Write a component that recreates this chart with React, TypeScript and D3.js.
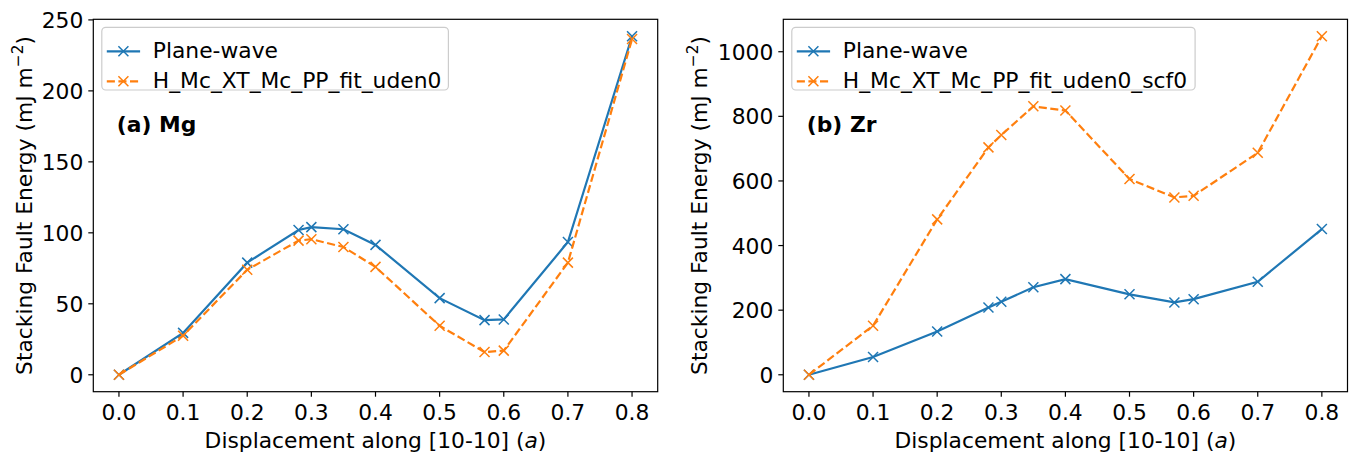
import React from "react";
import * as d3 from "d3";

const displacement = [0, 0.1, 0.2, 0.28, 0.3, 0.35, 0.4, 0.5, 0.57, 0.6, 0.7, 0.8];
const mgPlaneWave = [0, 29.5, 79, 102, 104, 102.5, 91.5, 54, 38.5, 39, 93.5, 238.5];
const mgFit = [0, 27.5, 74, 94.5, 95.5, 90, 76, 34.5, 16, 17, 79, 236.5];
const zrPlaneWave = [0, 55, 134, 208, 226, 271, 296, 249, 224, 234, 288, 451];
const zrFit = [0, 152, 481, 704, 742, 831, 818, 606, 549, 554, 687, 1048];
const xTicks = [0, 0.1, 0.2, 0.3, 0.4, 0.5, 0.6, 0.7, 0.8];
const mgYTicks = [0, 50, 100, 150, 200, 250];
const zrYTicks = [0, 200, 400, 600, 800, 1000];

const BLUE = "#1f77b4";
const ORANGE = "#ff7f0e";
const FONT = "DejaVu Sans, sans-serif";
const FS = 21.8;

type PanelProps = {
  left: number;
  right: number;
  top: number;
  bottom: number;
  pw: number[];
  fit: number[];
  yTicks: number[];
  fitLabel: string;
  tag: string;
  legendWidth: number;
  ylabelX: number;
};

function Marker({ x, y, color }: { x: number; y: number; color: string }) {
  const r = 5;
  return (
    <path
      d={`M${x - r},${y - r}L${x + r},${y + r}M${x - r},${y + r}L${x + r},${y - r}`}
      stroke={color}
      strokeWidth={1.5}
      fill="none"
    />
  );
}

function Panel(p: PanelProps) {
  const x = d3.scaleLinear().domain([-0.04, 0.84]).range([p.left, p.right]);
  const all = [...p.pw, ...p.fit];
  const ymin = d3.min(all)!;
  const ymax = d3.max(all)!;
  const m = (ymax - ymin) * 0.05;
  const y = d3.scaleLinear().domain([ymin - m, ymax + m]).range([p.bottom, p.top]);
  const line = d3
    .line<number>()
    .x((_, i) => x(displacement[i]))
    .y((v) => y(v));
  const tickLen = 5;
  const lx = p.left + 8.5;
  const ly = p.top + 8;
  const cx = (p.left + p.right) / 2;
  const cy = (p.top + p.bottom) / 2;
  return (
    <g fontFamily={FONT}>
      <path d={line(p.pw)!} stroke={BLUE} strokeWidth={2.2} fill="none" />
      {p.pw.map((v, i) => (
        <Marker key={"p" + i} x={x(displacement[i])} y={y(v)} color={BLUE} />
      ))}
      <path
        d={line(p.fit)!}
        stroke={ORANGE}
        strokeWidth={2.2}
        fill="none"
        strokeDasharray="8.1,3.5"
      />
      {p.fit.map((v, i) => (
        <Marker key={"f" + i} x={x(displacement[i])} y={y(v)} color={ORANGE} />
      ))}
      <rect
        x={p.left}
        y={p.top}
        width={p.right - p.left}
        height={p.bottom - p.top}
        fill="none"
        stroke="#000"
        strokeWidth={1.2}
      />
      {xTicks.map((t) => (
        <g key={"xt" + t}>
          <line x1={x(t)} x2={x(t)} y1={p.bottom} y2={p.bottom + tickLen} stroke="#000" strokeWidth={1.2} />
          <text x={x(t)} y={p.bottom + tickLen + 23} textAnchor="middle" fontSize={FS} fill="#000">
            {t.toFixed(1)}
          </text>
        </g>
      ))}
      {p.yTicks.map((t) => (
        <g key={"yt" + t}>
          <line x1={p.left - tickLen} x2={p.left} y1={y(t)} y2={y(t)} stroke="#000" strokeWidth={1.2} />
          <text x={p.left - tickLen - 5} y={y(t) + 8} textAnchor="end" fontSize={FS} fill="#000">
            {t}
          </text>
        </g>
      ))}
      <text x={cx} y={448} textAnchor="middle" fontSize={FS} fill="#000">
        Displacement along [10-10] (<tspan fontStyle="italic">a</tspan>)
      </text>
      <text
        transform={`translate(${p.ylabelX},${cy}) rotate(-90)`}
        textAnchor="middle"
        fontSize={FS}
        fill="#000"
      >
        Stacking Fault Energy (mJ m
        <tspan fontSize={15.3} dy={-9.5}>
          −2
        </tspan>
        <tspan dy={9.5}>)</tspan>
      </text>
      <text x={p.left + 23.5} y={131.5} fontSize={FS} fontWeight="bold" fill="#000">
        {p.tag}
      </text>
      <rect
        x={lx}
        y={ly}
        width={p.legendWidth}
        height={62.7}
        rx={4}
        fill="#fff"
        fillOpacity={0.8}
        stroke="#cccccc"
        strokeWidth={1.2}
      />
      <line x1={lx + 5} x2={lx + 38.3} y1={ly + 24} y2={ly + 24} stroke={BLUE} strokeWidth={2.2} />
      <Marker x={lx + 21.6} y={ly + 24} color={BLUE} />
      <text x={lx + 51} y={ly + 31} fontSize={FS} fill="#000">
        Plane-wave
      </text>
      <line
        x1={lx + 5}
        x2={lx + 38.3}
        y1={ly + 54}
        y2={ly + 54}
        stroke={ORANGE}
        strokeWidth={2.2}
        strokeDasharray="8.1,3.5"
      />
      <Marker x={lx + 21.6} y={ly + 54} color={ORANGE} />
      <text x={lx + 51} y={ly + 60.5} fontSize={FS} fill="#000">
        {p.fitLabel}
      </text>
    </g>
  );
}

export default function App() {
  return (
    <svg
      width={1353}
      height={453}
      style={{ position: "absolute", left: 0, top: 0, background: "#fff" }}
    >
      <rect width={1353} height={453} fill="#fff" />
      <Panel
        left={93.3}
        right={657.7}
        top={19.3}
        bottom={391.7}
        pw={mgPlaneWave}
        fit={mgFit}
        yTicks={mgYTicks}
        fitLabel="H_Mc_XT_Mc_PP_fit_uden0"
        tag="(a) Mg"
        legendWidth={346.6}
        ylabelX={32}
      />
      <Panel
        left={783.3}
        right={1347.5}
        top={19.3}
        bottom={391.7}
        pw={zrPlaneWave}
        fit={zrFit}
        yTicks={zrYTicks}
        fitLabel="H_Mc_XT_Mc_PP_fit_uden0_scf0"
        tag="(b) Zr"
        legendWidth={403.3}
        ylabelX={707}
      />
    </svg>
  );
}
